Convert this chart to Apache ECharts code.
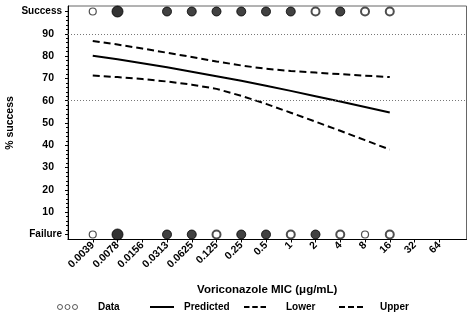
<!DOCTYPE html>
<html><head><meta charset="utf-8">
<script src="https://cdn.jsdelivr.net/npm/echarts@6/dist/echarts.min.js"></script>
<style>html,body{margin:0;padding:0;background:#fff}#c{width:474px;height:312px}</style>
</head><body><div id="c"></div>
<script>
// ---- data ----
const micLabels = ['0.0039','0.0078','0.0156','0.0313','0.0625','0.125','0.25','0.5','1','2','4','8','16','32','64'];
const curveMicIndex = [0,1,2,3,4,5,6,7,8,9,10,11,12];
const predicted = [80.2,78.6,76.8,75.0,73.0,71.0,68.9,66.7,64.4,62.0,59.6,57.2,54.7];
const upper     = [86.8,85.2,83.4,81.5,79.6,77.6,75.8,74.3,73.3,72.6,71.9,71.2,70.6];
const lower     = [71.3,70.6,69.7,68.6,67.2,65.3,62.2,58.6,54.6,50.6,46.5,42.3,38.1];
// marker density per MIC: null = none, 0 = single open, 0.5 = overlapping open, 1 = dense, 2 = very dense
const successMarks = [0,2,null,1,1,1,1,1,1,0.5,1,0.5,0.5];
const failureMarks = [0,2,null,1,1,0.5,1,1,0.5,1,0.5,0,0.5];
const outcomeValues = {success:100, failure:0};
const refLines = [60, 90];

const FONT = '"Liberation Sans", Arial, sans-serif';

function markStyle(level){
  if (level >= 2) return {size:11, style:{color:'#000', borderColor:'#000', borderWidth:1}};
  if (level >= 1) return {size:9, style:{color:'#111', borderColor:'#000', borderWidth:1}};
  if (level >= 0.5) return {size:8, style:{color:'#fff', borderColor:'#222', borderWidth:2}};
  return {size:7, style:{color:'#fff', borderColor:'#222', borderWidth:1.2}};
}
const dataPts = [];
[[successMarks, outcomeValues.success],[failureMarks, outcomeValues.failure]].forEach(([arr, yv])=>{
  arr.forEach((lv, i)=>{
    if (lv === null) return;
    const m = markStyle(lv);
    dataPts.push({value:[i, yv], symbolSize:m.size, itemStyle:m.style});
  });
});
const pairs = (ys)=> curveMicIndex.map((x,i)=>[x, ys[i]]);

const chart = echarts.init(document.getElementById('c'), null, {renderer:'canvas'});
const lbl = {fontFamily:FONT, fontWeight:'bold', fontSize:10, color:'#000'};
const legendBase = {orient:'horizontal', top:302, padding:0, textStyle:Object.assign({}, lbl), selectedMode:false};
const dashIcon = 'path://M0,0h6v2h-6zM9,0h6v2h-6zM18,0h6v2h-6z';
const solidIcon = 'path://M0,0h24v2h-24z';

chart.setOption({
  animation:false,
  backgroundColor:'#fff',
  grid:[
    {left:68, right:7.5, top:6, bottom:72.5, outerBoundsMode:'none', containLabel:false,
     show:true, borderColor:'#666', borderWidth:1, backgroundColor:'transparent'},
    {left:68, right:7.5, top:11.5, bottom:77.5, outerBoundsMode:'none', containLabel:false}
  ],
  xAxis:[
    {gridIndex:0, type:'value', min:-1, max:15.1, interval:1,
     axisLine:{show:true, onZero:false, lineStyle:{color:'#000', width:1}},
     axisTick:{show:true, length:3, lineStyle:{color:'#000'}, customValues:micLabels.map((_,i)=>i)},
     axisLabel:Object.assign({rotate:45, margin:4, customValues:micLabels.map((_,i)=>i),
       formatter:(v)=> (micLabels[Math.round(v)] !== undefined && Math.abs(v-Math.round(v))<1e-6) ? micLabels[Math.round(v)] : ''}, lbl, {fontSize:10.5}),
     splitLine:{show:false},
     name:'Voriconazole MIC (\u03bcg/mL)', nameLocation:'middle', nameGap:44,
     nameTextStyle:{fontFamily:FONT, fontWeight:'bold', fontSize:11.5, color:'#000'}},
    {gridIndex:1, type:'value', min:-1, max:15.1, show:false, axisLine:{onZero:false}}
  ],
  yAxis:[
    {gridIndex:0, type:'value', min:-2, max:102, axisLine:{show:true, onZero:false, lineStyle:{color:'#000'}},
     axisTick:{show:false}, axisLabel:{show:false}, splitLine:{show:false}},
    {gridIndex:1, type:'value', min:0, max:100, interval:10,
     axisLine:{show:false, onZero:false},
     axisTick:{show:true, length:3, lineStyle:{color:'#000'}},
     minorTick:{show:true, splitNumber:5, length:2, lineStyle:{color:'#000'}},
     splitLine:{show:false},
     axisLabel:{margin:6, formatter:(v)=> v===0 ? '{w|Failure}' : (v===100 ? '{w|Success}' : '{n|'+v+'}'),
       rich:{w:Object.assign({}, lbl), n:Object.assign({padding:[0,8,0,0]}, lbl, {fontSize:10.5})}},
     name:'% success', nameLocation:'middle', nameGap:52, nameMoveOverlap:false,
     nameTextStyle:{fontFamily:FONT, fontWeight:'bold', fontSize:10.5, color:'#000'}}
  ],
  legend:[
    Object.assign({}, legendBase, {left:57, itemWidth:21, itemHeight:5, itemGap:0,
      textStyle:Object.assign({padding:[0,0,0,15]}, lbl),
      data:[{name:'Data', icon:'path://M0,3a3,3 0 1,0 6,0a3,3 0 1,0 -6,0ZM9,3a3,3 0 1,0 6,0a3,3 0 1,0 -6,0ZM18,3a3,3 0 1,0 6,0a3,3 0 1,0 -6,0Z',
             itemStyle:{color:'#fff', borderColor:'#333', borderWidth:1}}]}),
    Object.assign({}, legendBase, {left:150, itemWidth:24, itemHeight:2, textStyle:Object.assign({padding:[0,0,0,5]}, lbl),
      data:[{name:'Predicted', icon:solidIcon, itemStyle:{color:'#000', borderWidth:0}}]}),
    Object.assign({}, legendBase, {left:244, itemWidth:22, itemHeight:2, textStyle:Object.assign({padding:[0,0,0,15]}, lbl),
      data:[{name:'Lower', icon:dashIcon, itemStyle:{color:'#000', borderWidth:0}}]}),
    Object.assign({}, legendBase, {left:339, itemWidth:24, itemHeight:2, textStyle:Object.assign({padding:[0,0,0,12]}, lbl),
      data:[{name:'Upper', icon:dashIcon, itemStyle:{color:'#000', borderWidth:0}}]})
  ],
  series:[
    {name:'Predicted', type:'line', xAxisIndex:1, yAxisIndex:1, data:pairs(predicted), symbol:'none',
     lineStyle:{color:'#000', width:2, type:'solid'}, itemStyle:{color:'#000'},
     markLine:{silent:true, symbol:'none', label:{show:false},
       lineStyle:{color:'#777', width:1, type:[1,2]},
       data:refLines.map(v=>({yAxis:v}))}},
    {name:'Lower', type:'line', xAxisIndex:1, yAxisIndex:1, data:pairs(lower), symbol:'none',
     lineStyle:{color:'#000', width:2, type:[7,4]}, itemStyle:{color:'#000'}},
    {name:'Upper', type:'line', xAxisIndex:1, yAxisIndex:1, data:pairs(upper), symbol:'none',
     lineStyle:{color:'#000', width:2, type:[7,4]}, itemStyle:{color:'#000'}},
    {name:'Data', type:'scatter', xAxisIndex:1, yAxisIndex:1, data:dataPts, symbol:'circle', clip:false, z:5,
     itemStyle:{color:'#fff', borderColor:'#222', borderWidth:1.2}}
  ]
});
</script>
</body></html>
